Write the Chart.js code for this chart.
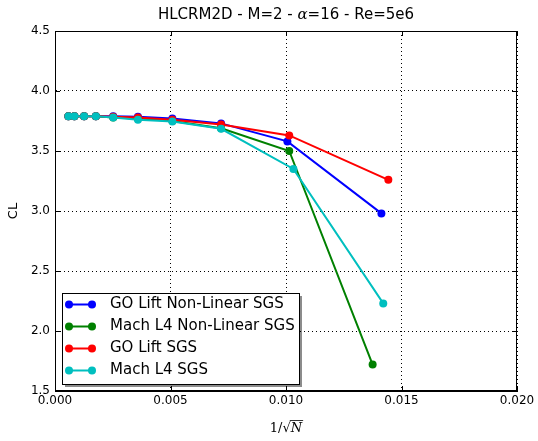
<!DOCTYPE html>
<html>
<head>
<meta charset="utf-8">
<script src="https://cdn.jsdelivr.net/npm/chart.js@4"></script>
<style>
  html, body { margin: 0; padding: 0; background: #fff; }
  #wrap { width: 538px; height: 441px; }
</style>
</head>
<body>
<div id="wrap"><canvas id="chart-cl" width="538" height="441"></canvas></div>
<script>
// ---------------------------------- data ----------------------------------
const seriesNames = ['GO Lift Non-Linear SGS', 'Mach L4 Non-Linear SGS', 'GO Lift SGS', 'Mach L4 SGS'];
const seriesColors = ['#0000ff', '#008000', '#ff0000', '#00bfbf'];

// 1/sqrt(N) for each run
const x_goNL   = [0.00058, 0.00084, 0.00126, 0.00177, 0.00252, 0.00359, 0.00508, 0.00719, 0.01006, 0.01413];
const x_machNL = [0.00058, 0.00084, 0.00126, 0.00177, 0.00252, 0.00359, 0.00508, 0.00719, 0.01014, 0.01375];
const x_go     = [0.00058, 0.00084, 0.00126, 0.00177, 0.00252, 0.00359, 0.00508, 0.00719, 0.01014, 0.01443];
const x_mach   = [0.00058, 0.00084, 0.00126, 0.00177, 0.00252, 0.00359, 0.00508, 0.00719, 0.01032, 0.01421];

// CL values
const cl_goNL   = [3.79, 3.79, 3.79, 3.79, 3.79, 3.785, 3.77, 3.73, 3.58, 2.98];
const cl_machNL = [3.79, 3.79, 3.79, 3.79, 3.78, 3.77, 3.75, 3.69, 3.50, 1.72];
const cl_go     = [3.79, 3.79, 3.79, 3.79, 3.785, 3.78, 3.76, 3.72, 3.63, 3.26];
const cl_mach   = [3.79, 3.79, 3.79, 3.79, 3.78, 3.76, 3.745, 3.685, 3.35, 2.23];

const xTicks = [0.000, 0.005, 0.010, 0.015, 0.020];
const yTicks = [1.5, 2.0, 2.5, 3.0, 3.5, 4.0, 4.5];

const xs = [x_goNL, x_machNL, x_go, x_mach];
const ys = [cl_goNL, cl_machNL, cl_go, cl_mach];

function toPoints(x, y) {
    return x.map((v, i) => ({ x: v, y: y[i] }));
}

const FONT = '"DejaVu Sans", sans-serif';

// ------------------------- frame, ticks, texts, legend -------------------------
const decorPlugin = {
    id: 'decor',
    afterDraw(chart) {
        const ctx = chart.ctx;
        const a = chart.chartArea;
        const sx = chart.scales.x, sy = chart.scales.y;
        ctx.save();

        // frame
        ctx.strokeStyle = '#000';
        ctx.lineWidth = 1;
        ctx.strokeRect(a.left + 0.5, a.top + 0.5, a.right - a.left - 1, a.bottom - a.top - 1);

        // major ticks, inward on all four sides
        ctx.beginPath();
        xTicks.forEach(t => {
            const px = Math.round(sx.getPixelForValue(t)) + 0.5;
            ctx.moveTo(px, a.bottom); ctx.lineTo(px, a.bottom - 5);
            ctx.moveTo(px, a.top); ctx.lineTo(px, a.top + 5);
        });
        yTicks.forEach(t => {
            const py = Math.round(sy.getPixelForValue(t)) + 0.5;
            ctx.moveTo(a.left, py); ctx.lineTo(a.left + 5, py);
            ctx.moveTo(a.right, py); ctx.lineTo(a.right - 5, py);
        });
        ctx.stroke();

        const cx = (a.left + a.right) / 2;

        // title with math alpha
        const parts = [
            ['HLCRM2D - M=2 - ', '15px ' + FONT],
            ['\u03b1', 'italic 15px "DejaVu Serif", serif'],
            ['=16 - Re=5e6', '15px ' + FONT]
        ];
        let w = 0;
        parts.forEach(p => { ctx.font = p[1]; w += ctx.measureText(p[0]).width; });
        let tx = cx - w / 2;
        ctx.fillStyle = '#000';
        ctx.textBaseline = 'middle';
        ctx.textAlign = 'left';
        parts.forEach(p => { ctx.font = p[1]; ctx.fillText(p[0], tx, 15); tx += ctx.measureText(p[0]).width; });

        // x axis title 1/sqrt(N)
        ctx.font = '13px "DejaVu Serif", serif';
        const s1 = '1/\u221a';
        ctx.font = 'italic 13px "DejaVu Serif", serif';
        const wN = ctx.measureText('N').width;
        ctx.font = '13px "DejaVu Serif", serif';
        const w1 = ctx.measureText(s1).width;
        let ax = cx - (w1 + wN) / 2;
        ctx.fillText(s1, ax, 429);
        ctx.font = 'italic 13px "DejaVu Serif", serif';
        ctx.fillText('N', ax + w1, 429);
        ctx.beginPath();
        ctx.lineWidth = 0.8;
        ctx.moveTo(ax + w1 - 1, 420.5);
        ctx.lineTo(ax + w1 + wN + 1, 420.5);
        ctx.stroke();

        // y axis title
        ctx.save();
        ctx.translate(14, (a.top + a.bottom) / 2);
        ctx.rotate(-Math.PI / 2);
        ctx.textAlign = 'center';
        ctx.font = '13px ' + FONT;
        ctx.fillText('CL', 0, 0);
        ctx.restore();

        // legend box (lower left, inside axes)
        const lx = 62, ly = 293, lw = 237, lh = 91;
        ctx.fillStyle = 'rgba(0,0,0,0.45)';
        ctx.fillRect(lx + 3, ly + 3, lw, lh);
        ctx.fillStyle = '#fff';
        ctx.fillRect(lx, ly, lw, lh);
        ctx.strokeStyle = '#000';
        ctx.lineWidth = 1;
        ctx.strokeRect(lx + 0.5, ly + 0.5, lw, lh);

        ctx.font = '15px ' + FONT;
        ctx.textBaseline = 'middle';
        seriesNames.forEach((name, i) => {
            const yy = 304.5 + i * 22;
            ctx.strokeStyle = seriesColors[i];
            ctx.fillStyle = seriesColors[i];
            ctx.lineWidth = 2;
            ctx.beginPath();
            ctx.moveTo(69, yy); ctx.lineTo(92, yy);
            ctx.stroke();
            [69, 92].forEach(mx => {
                ctx.beginPath();
                ctx.arc(mx, yy, 4, 0, Math.PI * 2);
                ctx.fill();
            });
            ctx.fillStyle = '#000';
            ctx.fillText(name, 110, yy);
        });

        ctx.restore();
    }
};

// ---------------------------------- chart ----------------------------------
const datasets = seriesNames.map((name, i) => ({
    label: name,
    data: toPoints(xs[i], ys[i]),
    showLine: true,
    borderColor: seriesColors[i],
    backgroundColor: seriesColors[i],
    borderWidth: 2,
    pointRadius: 4,
    pointBorderWidth: 0,
    pointBackgroundColor: seriesColors[i],
    order: 4 - i
}));

const cl = document.getElementById('chart-cl').getContext('2d');
const chart_cl = new Chart(cl, {
    type: 'scatter',
    data: { datasets: datasets },
    options: {
        responsive: false,
        animation: false,
        layout: { padding: { top: 31, right: 21, left: 0, bottom: 0 } },
        plugins: {
            legend: { display: false },
            title: { display: false },
            tooltip: { enabled: false }
        },
        scales: {
            x: {
                type: 'linear',
                min: 0,
                max: 0.02,
                afterFit: (scale) => { scale.height = 50; },
                afterBuildTicks: (scale) => { scale.ticks = xTicks.map(v => ({ value: v })); },
                ticks: {
                    color: '#000',
                    padding: 3,
                    maxRotation: 0,
                    font: { family: 'DejaVu Sans', size: 12 },
                    callback: (v) => v.toFixed(3)
                },
                grid: { color: '#000', lineWidth: 1, drawTicks: false },
                border: { display: true, color: '#000', width: 1, dash: [1, 3] }
            },
            y: {
                type: 'linear',
                min: 1.5,
                max: 4.5,
                afterFit: (scale) => { scale.width = 55; },
                afterBuildTicks: (scale) => { scale.ticks = yTicks.map(v => ({ value: v })); },
                ticks: {
                    color: '#000',
                    padding: 5,
                    font: { family: 'DejaVu Sans', size: 12 },
                    callback: (v) => v.toFixed(1)
                },
                grid: { color: '#000', lineWidth: 1, drawTicks: false },
                border: { display: true, color: '#000', width: 1, dash: [1, 3] }
            }
        }
    },
    plugins: [decorPlugin]
});
</script>
</body>
</html>
